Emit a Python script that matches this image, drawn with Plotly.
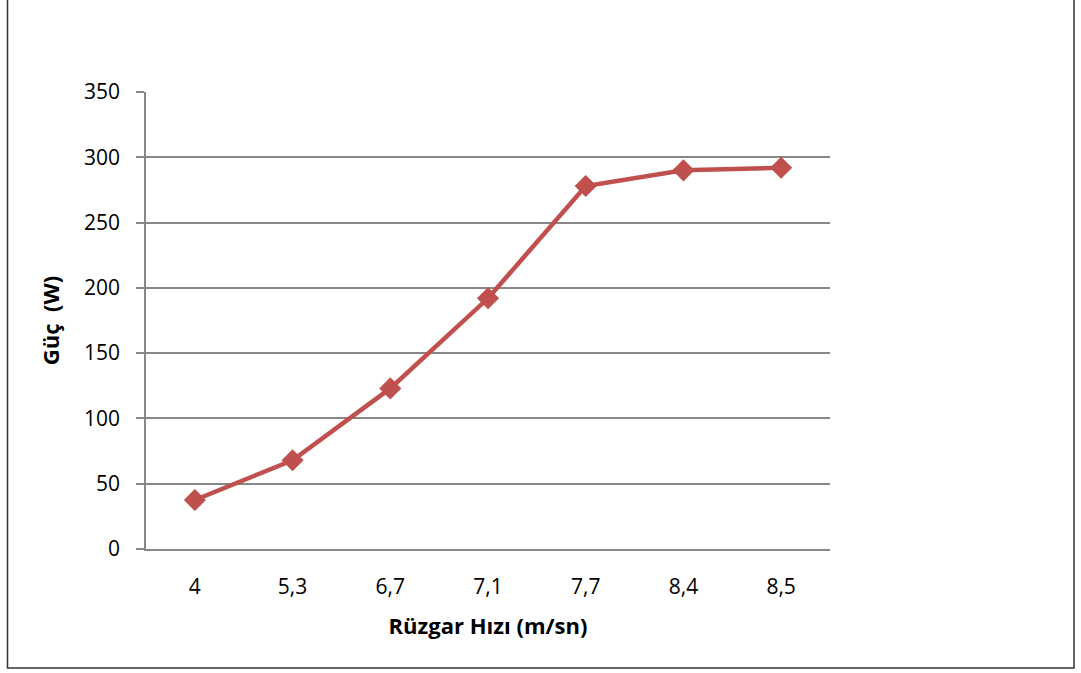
import plotly.graph_objects as go

categories = ["4", "5,3", "6,7", "7,1", "7,7", "8,4", "8,5"]
power = [37.5, 68, 123, 192, 278, 290, 292]
y_ticks = [0, 50, 100, 150, 200, 250, 300, 350]

FONT = "'Open Sans', Lato, sans-serif"
W, H = 1081, 673
L, R, T, B = 146, 830, 92, 549

fig = go.Figure()
fig.add_trace(go.Scatter(
    x=categories, y=power, mode="lines+markers",
    line=dict(color="#C0504D", width=4.5),
    marker=dict(symbol="diamond", size=17, color="#C0504D"),
    showlegend=False, cliponaxis=False,
))

pw = R - L
ph = B - T
def px(x):
    return (x - L) / pw
def py(y):
    return (B - y) / ph

fig.update_layout(
    width=W, height=H,
    margin=dict(l=L, r=W - R, t=T, b=H - B),
    paper_bgcolor="white", plot_bgcolor="white",
    font=dict(family=FONT, size=21, color="black"),
    xaxis=dict(
        type="category", range=[-0.5, 6.5],
        showgrid=False, zeroline=False,
        showline=True, linecolor="#888888", linewidth=1.5,
        ticks="", ticklabelstandoff=18,
        title=dict(text="<b>Rüzgar Hızı (m/sn)</b>", font=dict(size=22), standoff=20),
    ),
    yaxis=dict(
        range=[0, 350], tickvals=y_ticks,
        showgrid=True, gridcolor="#888888", gridwidth=1.5,
        zeroline=False,
        showline=True, linecolor="#888888", linewidth=1.5,
        ticks="outside", ticklen=8, tickcolor="#888888", tickwidth=1.5,
        ticklabelstandoff=12,
        title=dict(text="<b>Güç\u00a0\u00a0(W)</b>", font=dict(size=22), standoff=18),
    ),
    shapes=[
        dict(type="rect", xref="paper", yref="paper",
             x0=px(7.5), x1=px(1074), y0=py(668), y1=py(-5),
             line=dict(color="#333333", width=1.5), fillcolor="rgba(0,0,0,0)", layer="below"),
    ],
)

fig.write_html("out.html")
